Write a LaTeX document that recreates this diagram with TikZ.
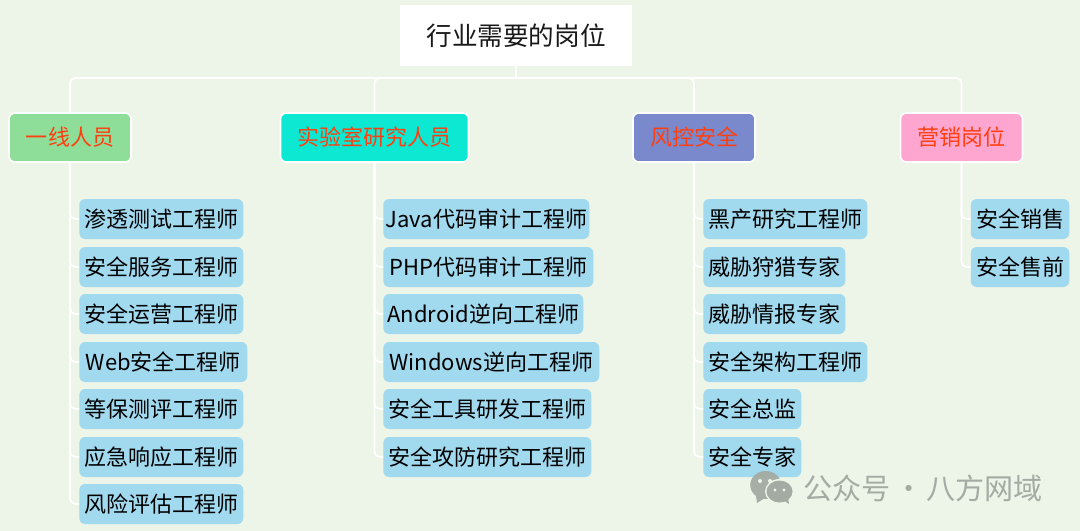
\documentclass[tikz,border=0pt]{standalone}
\usepackage{fontspec}
\setmainfont{Noto Sans CJK SC}
\usetikzlibrary{shapes.geometric}
\definecolor{bgc}{HTML}{EDF4E8}
\definecolor{leafc}{HTML}{A1D9EF}
\definecolor{redc}{HTML}{FF3F0F}
\definecolor{catA}{HTML}{8EDE99}
\definecolor{catB}{HTML}{0CE8D2}
\definecolor{catC}{HTML}{7A88CC}
\definecolor{catD}{HTML}{FFA6D0}
\definecolor{markc}{HTML}{A4ABA3}
\tikzset{
  x=0.75pt,y=-0.75pt,
  w/.style={minimum width=#1*0.75pt},
  titlebox/.style={fill=white,minimum height=45.75pt,inner sep=0pt,font=\fontsize{19.2pt}{23pt}\selectfont,text=black!90},
  catbox/.style={draw=white,line width=1.2pt,rounded corners=4.5pt,minimum height=36.75pt,inner sep=0pt,font=\fontsize{16.5pt}{20pt}\selectfont,text=redc},
  leafbox/.style={fill=leafc,rounded corners=4.5pt,minimum height=30pt,inner sep=0pt,anchor=west,font=\fontsize{16.5pt}{20pt}\selectfont,text=black},
  conn/.style={draw=white,line width=1.3pt,rounded corners=4pt},
}
\begin{document}
\begin{tikzpicture}
\useasboundingbox[fill=bgc] (0,0) rectangle (1080,531);
\node[titlebox,w=232] (title) at (516,35.5) {行业需要的岗位};
\coordinate (bus) at (516,78);
\node[catbox,w=122,fill=catA] (a) at (70,137.5) {一线人员};
\node[catbox,w=188,fill=catB] (b) at (374.5,137.5) {实验室研究人员};
\node[catbox,w=122,fill=catC] (c) at (694,137.5) {风控安全};
\node[catbox,w=122,fill=catD] (d) at (961.5,137.5) {营销岗位};
% column 1
\node[leafbox,w=164] (a1) at (79,219) {渗透测试工程师};
\node[leafbox,w=164] (a2) at (79,267) {安全服务工程师};
\node[leafbox,w=164] (a3) at (79,314) {安全运营工程师};
\node[leafbox,w=168] (a4) at (79,362) {Web安全工程师};
\node[leafbox,w=164] (a5) at (79,409) {等保测评工程师};
\node[leafbox,w=164] (a6) at (79,457) {应急响应工程师};
\node[leafbox,w=164] (a7) at (79,504) {风险评估工程师};
% column 2
\node[leafbox,w=206] (b1) at (383,219) {Java代码审计工程师};
\node[leafbox,w=210] (b2) at (383,267) {PHP代码审计工程师};
\node[leafbox,w=200] (b3) at (383,314) {Android逆向工程师};
\node[leafbox,w=216] (b4) at (383,362) {Windows逆向工程师};
\node[leafbox,w=208] (b5) at (383,409) {安全工具研发工程师};
\node[leafbox,w=208] (b6) at (383,457) {安全攻防研究工程师};
% column 3
\node[leafbox,w=164] (c1) at (703,219) {黑产研究工程师};
\node[leafbox,w=142] (c2) at (703,267) {威胁狩猎专家};
\node[leafbox,w=142] (c3) at (703,314) {威胁情报专家};
\node[leafbox,w=164] (c4) at (703,362) {安全架构工程师};
\node[leafbox,w=98] (c5) at (703,409) {安全总监};
\node[leafbox,w=98] (c6) at (703,457) {安全专家};
% column 4
\node[leafbox,w=98.5] (d1) at (970.5,219) {安全销售};
\node[leafbox,w=98.5] (d2) at (970.5,267) {安全售前};
% connectors
\draw[conn,rounded corners=0pt] (title.south) -- (bus);
\foreach \n in {a,b,c,d} \draw[conn] (bus) -| (\n.north);
\foreach \n in {a1,a2,a3,a4,a5,a6,a7} \draw[conn] (a.south) |- (\n.west);
\foreach \n in {b1,b2,b3,b4,b5,b6} \draw[conn] (b.south) |- (\n.west);
\foreach \n in {c1,c2,c3,c4,c5,c6} \draw[conn] (c.south) |- (\n.west);
\foreach \n in {d1,d2} \draw[conn] (d.south) |- (\n.west);
% watermark
\fill[markc,opacity=.95] (765.7,485) ellipse [x radius=15.5,y radius=14];
\fill[markc,opacity=.95] (756,496) -- (757,503) -- (765,498) -- cycle;
\fill[bgc] (779.5,491.5) ellipse [x radius=14.5,y radius=12.5];
\fill[markc] (779.5,491.5) ellipse [x radius=13,y radius=11];
\fill[markc] (783,500) -- (789,504) -- (788,498) -- cycle;
\fill[bgc] (760,481) circle [radius=2];
\fill[bgc] (770,481) circle [radius=2];
\fill[bgc] (775,490) circle [radius=1.6];
\fill[bgc] (784,490) circle [radius=1.6];
\node[inner sep=0pt,anchor=west,text=markc,font=\fontsize{21.8pt}{25pt}\selectfont] (wm) at (803,488) {公众号\hspace{-0.1em} · \hspace{-0.1em}八方网域};
\end{tikzpicture}
\end{document}
